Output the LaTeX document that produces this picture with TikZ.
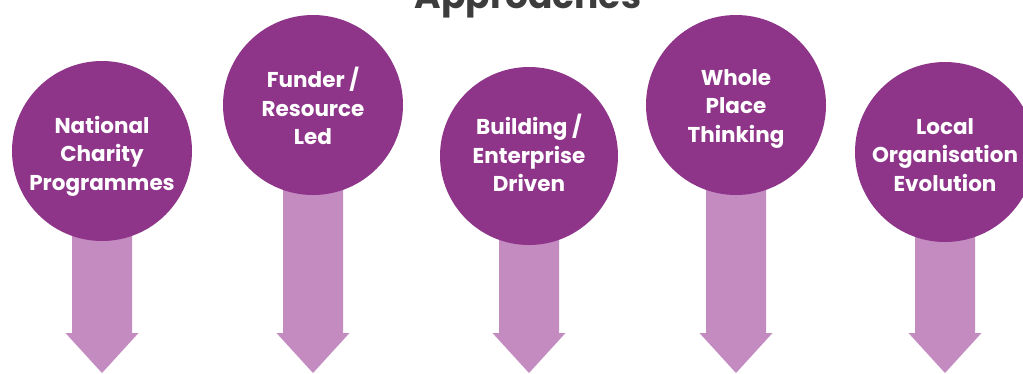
\documentclass[tikz,border=0pt]{standalone}
\usepackage{fontspec}
\setmainfont{Poppins}
\usetikzlibrary{backgrounds}
\definecolor{circ}{HTML}{8E3589}
\definecolor{arr}{HTML}{C38BC0}
\definecolor{titlec}{HTML}{3D3D3D}
\tikzset{
  bubble/.style={circle, fill=circ, minimum size=180pt, inner sep=0pt},
  bubbletext/.style={text=white, font=\bfseries\fontsize{21.5}{28.5}\selectfont, align=center, inner sep=0pt},
  arrowbody/.style={fill=arr},
}
\begin{document}
\begin{tikzpicture}[x=1pt,y=-1pt]
\useasboundingbox (0,0) rectangle (1023,373);
\node[anchor=base, text=titlec, font=\bfseries\fontsize{36}{40}\selectfont] (title) at (528,8) {Approaches};
\node[bubble, label={[bubbletext, yshift=-5pt]center:National\\Charity\\Programmes}] (c1) at (102,151) {};
\node[bubble, label={[bubbletext, yshift=-1pt]center:Funder /\\Resource\\Led}] (c2) at (313,105) {};
\node[bubble, minimum size=178pt, label={[bubbletext, yshift=3pt]center:Building /\\Enterprise\\Driven}] (c3) at (529,156) {};
\node[bubble, label={[bubbletext, yshift=-3.5pt]center:Whole\\Place\\Thinking}] (c4) at (736,105) {};
\node[bubble, label={[bubbletext, yshift=-3pt]center:Local\\Organisation\\Evolution}] (c5) at (945,152) {};
\coordinate (h) at (0,333);
\coordinate (t) at (0,373);
\begin{pgfonlayer}{background}
\foreach \n in {c1,c2,c3,c4,c5}{
  \fill[arrowbody] ([xshift=-30pt]\n.center) -- ([xshift=-30pt]\n.center |- h)
    -- ([xshift=-36.5pt]\n.center |- h) -- (\n.center |- t)
    -- ([xshift=36.5pt]\n.center |- h) -- ([xshift=30pt]\n.center |- h)
    -- ([xshift=30pt]\n.center) -- cycle;
}
\end{pgfonlayer}
\end{tikzpicture}
\end{document}
